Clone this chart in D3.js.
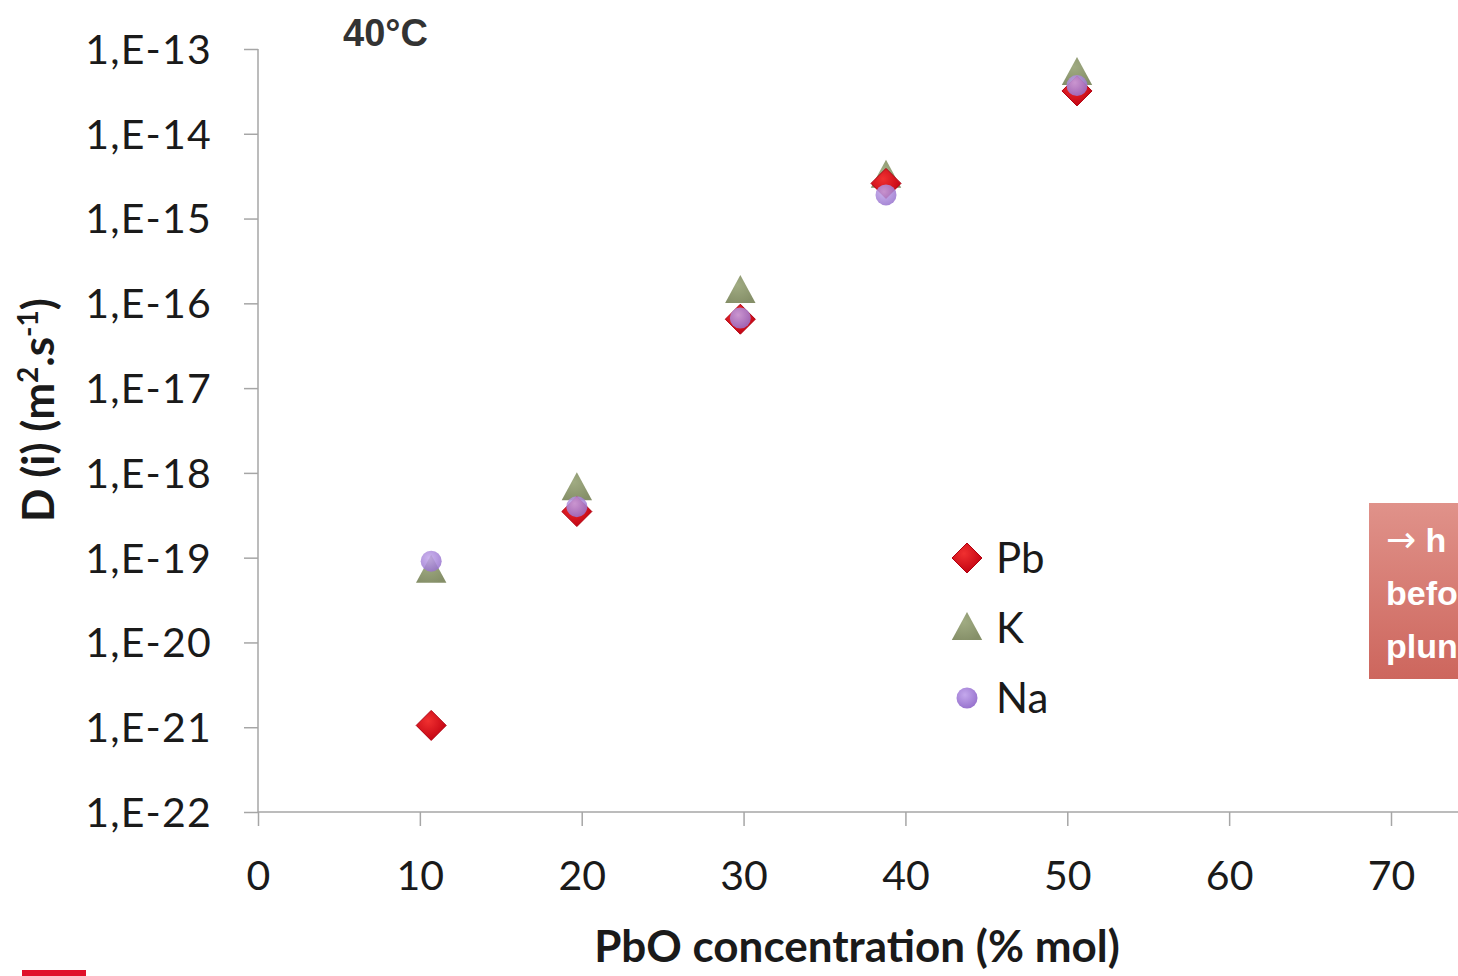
<!DOCTYPE html>
<html><head><meta charset="utf-8">
<script src="https://cdn.jsdelivr.net/npm/d3@7"></script>
<style>body{margin:0;background:#fff;overflow:hidden}</style>
</head><body>
<svg id="c" width="1458" height="976"></svg>
<script>
const xTicks=[0,10,20,30,40,50,60,70];
const yExps=[-13,-14,-15,-16,-17,-18,-19,-20,-21,-22];
const xPb=[10.7,19.7,29.8,38.8,50.6];
const pbValues=[1.05e-21,3.5e-19,6.5e-17,2.6e-15,3.2e-14];
const kValues=[7.0e-20,6.6e-19,1.4e-16,3.2e-15,5.2e-14];
const naValues=[9.1e-20,4.0e-19,6.7e-17,1.9e-15,3.7e-14];
const seriesNames=["Pb","K","Na"];

const svg=d3.select("#c");
const defs=svg.append("defs");
const rg=(id,c0,c1)=>{const g=defs.append("radialGradient").attr("id",id).attr("cx","40%").attr("cy","35%").attr("r","70%");
 g.append("stop").attr("offset","0%").attr("stop-color",c0);g.append("stop").attr("offset","100%").attr("stop-color",c1);};
rg("gPb","#f03030","#c00010");
rg("gK","#a0ab82","#858f68");
rg("gNa","#c4a8ec","#9570cc");
const lg=defs.append("linearGradient").attr("id","gBox").attr("x1",0).attr("y1",0).attr("x2",0).attr("y2",1);
lg.append("stop").attr("offset","0%").attr("stop-color","#e0928a");
lg.append("stop").attr("offset","100%").attr("stop-color","#cd665d");

const x=d3.scaleLinear().domain([0,70]).range([258,1391]);
const y=d3.scaleLog().domain([1e-22,1e-13]).range([812,49]);
const font="Lato, 'Open Sans', sans-serif";

// axes
const xAx=svg.append("g").attr("transform","translate(0,812)")
 .call(d3.axisBottom(x).tickValues(xTicks).tickSize(14).tickFormat(d3.format("d")));
xAx.select(".domain").remove();
xAx.append("line").attr("x1",258).attr("x2",1458).attr("stroke","#a6a6a6").attr("stroke-width",1.5);
xAx.selectAll(".tick line").attr("stroke","#a6a6a6").attr("stroke-width",1.5);
xAx.selectAll(".tick text").attr("font-family",font).attr("font-size",41).attr("fill","#1a1a1a").attr("dy",0).attr("y",78);

const yAx=svg.append("g").attr("transform","translate(258,0)")
 .call(d3.axisLeft(y).tickValues(yExps.map(e=>Math.pow(10,e))).tickSize(14).tickFormat(d=>"1,E"+Math.round(Math.log10(d))));
yAx.select(".domain").attr("stroke","#a6a6a6").attr("stroke-width",1.5).attr("d","M0,812V49");
yAx.selectAll(".tick line").attr("stroke","#a6a6a6").attr("stroke-width",1.5);
yAx.selectAll(".tick text").attr("font-family",font).attr("font-size",41).attr("letter-spacing",1.2).attr("fill","#1a1a1a").attr("x",-46).attr("dy","0.35em");

// markers
const diamond=(s)=>`M0,${-s}L${s},0L0,${s}L${-s},0Z`;
const tri=(s)=>`M0,${-s}L${s*0.95},${s*0.75}L${-s*0.95},${s*0.75}Z`;
const drawSeries=(vals,kind)=>{
 const g=svg.append("g");
 vals.forEach((v,i)=>{
  const cx=x(xPb[i]),cy=y(v);
  if(kind==="Pb") g.append("path").attr("d",diamond(15)).attr("transform",`translate(${cx},${cy})`).attr("fill","url(#gPb)").attr("stroke","#b00010").attr("stroke-width",1);
  if(kind==="K") g.append("path").attr("d",tri(16)).attr("transform",`translate(${cx},${cy})`).attr("fill","url(#gK)");
  if(kind==="Na") g.append("circle").attr("cx",cx).attr("cy",cy).attr("r",10.5).attr("fill","url(#gNa)").attr("fill-opacity",0.85);
 });
};
drawSeries(kValues,"K");
drawSeries(pbValues,"Pb");
drawSeries(naValues,"Na");

// legend
const legY=[558,628,698];
seriesNames.forEach((n,i)=>{
 const cx=967,cy=legY[i];
 if(n==="Pb") svg.append("path").attr("d",diamond(15)).attr("transform",`translate(${cx},${cy})`).attr("fill","url(#gPb)").attr("stroke","#b00010");
 if(n==="K") svg.append("path").attr("d",tri(16)).attr("transform",`translate(${cx},${cy})`).attr("fill","url(#gK)");
 if(n==="Na") svg.append("circle").attr("cx",cx).attr("cy",cy).attr("r",10.5).attr("fill","url(#gNa)");
 svg.append("text").attr("x",996).attr("y",cy).attr("dy","0.36em").attr("font-family",font).attr("font-size",42).attr("fill","#1a1a1a").text(n);
});

// titles
svg.append("text").attr("x",343).attr("y",46).attr("font-family","'Liberation Sans', Arial, sans-serif").attr("font-weight","bold").attr("font-size",38).attr("fill","#333").text("40°C");
svg.append("text").attr("x",857).attr("y",962).attr("text-anchor","middle").attr("font-family",font).attr("font-weight","bold").attr("font-size",44).attr("fill","#1a1a1a").text("PbO concentration (% mol)");
const yl=svg.append("text").attr("transform","translate(54,410) rotate(-90)").attr("text-anchor","middle").attr("font-family",font).attr("font-weight","bold").attr("font-size",44).attr("fill","#1a1a1a");
yl.append("tspan").text("D (i) (m");
yl.append("tspan").attr("font-size",28).attr("dy",-16).text("2");
yl.append("tspan").attr("dy",16).text(".s");
yl.append("tspan").attr("font-size",28).attr("dy",-16).text("-1");
yl.append("tspan").attr("dy",16).text(")");

// slide overlay box (clipped at right edge)
svg.append("rect").attr("x",1369).attr("y",503).attr("width",100).attr("height",176).attr("fill","url(#gBox)");
const bt=["befo","plun"];
const at=svg.append("text").attr("x",1386).attr("y",552).attr("font-family","'Liberation Sans', Arial, sans-serif").attr("font-weight","bold").attr("font-size",34).attr("fill","#fff");
at.append("tspan").attr("font-family","'DejaVu Sans', sans-serif").attr("font-weight","normal").attr("font-size",36).text("→");
at.append("tspan").text(" h");
bt.forEach((t,i)=>svg.append("text").attr("x",1386).attr("y",605+i*53).attr("font-family","'Liberation Sans', Arial, sans-serif").attr("font-weight","bold").attr("font-size",34).attr("fill","#fff").text(t));
svg.append("rect").attr("x",22).attr("y",970).attr("width",64).attr("height",6).attr("fill","#e0102a");
</script>
</body></html>
